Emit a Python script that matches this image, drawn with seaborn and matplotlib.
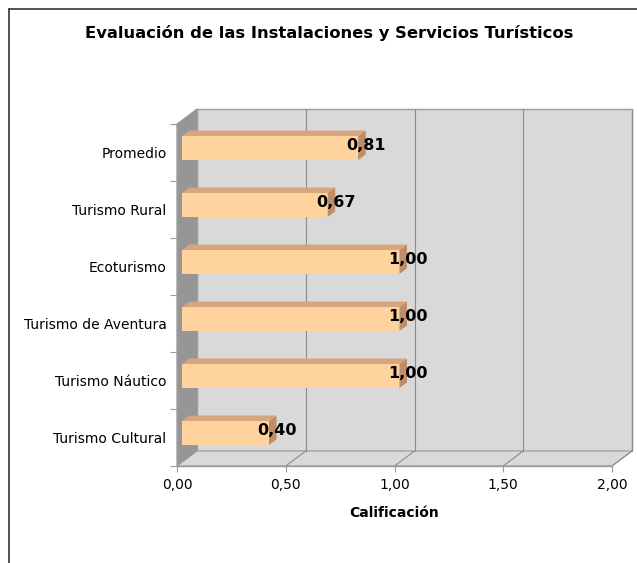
import matplotlib
matplotlib.use("Agg")
import matplotlib.pyplot as plt
import seaborn as sns
import pandas as pd
from matplotlib.patches import Polygon, Rectangle
from matplotlib.lines import Line2D

# ---- data ----
categories = ["Promedio", "Turismo Rural", "Ecoturismo", "Turismo de Aventura",
              "Turismo Náutico", "Turismo Cultural"]
values = [0.81, 0.67, 1.00, 1.00, 1.00, 0.40]
x_ticks = [0.0, 0.5, 1.0, 1.5, 2.0]
x_tick_labels = ["0,00", "0,50", "1,00", "1,50", "2,00"]
title = "Evaluación de las Instalaciones y Servicios Turísticos"
x_label = "Calificación"

df = pd.DataFrame({"cat": categories, "val": values})

sns.set_theme(style="white")
plt.rcParams["font.family"] = ["DejaVu Sans"]
plt.rcParams["text.color"] = "black"
plt.rcParams["axes.labelcolor"] = "black"

W, H = 637, 563
fig = plt.figure(figsize=(W / 100, H / 100), dpi=100)
fig.patch.set_facecolor("white")

# front plane: x 177..612, y 124..466 (image px)
L, R, T, B = 177, 612, 124, 466
ax = fig.add_axes([L / W, (H - B) / H, (R - L) / W, (B - T) / H])
ax.set_facecolor("none")

front = "#FFD39D"
top_c = "#D6A77F"
side_c = "#BF8E68"

sns.barplot(data=df, x="val", y="cat", orient="h", color=front, width=0.42,
            saturation=1, ax=ax, zorder=5)
ax.set_xlim(0, 2)
ax.set_ylim(5.5, -0.5)

pxx = 2 / (R - L)        # data per px in x
pxy = 6 / (B - T)        # data per px in y (down)

# walls
dxw, dyw = 20 * pxx, -15 * pxy
wall = "#D9D9D9"
edge = "#9A9A9A"
ax.add_patch(Rectangle((dxw, -0.5 + dyw), 2, 6, facecolor=wall, edgecolor=edge,
                       lw=1.0, clip_on=False, zorder=0))
ax.add_patch(Polygon([(0, -0.5), (dxw, -0.5 + dyw), (dxw, 5.5 + dyw), (0, 5.5)],
                     closed=True, facecolor="#969696", edgecolor=edge, lw=0.8,
                     clip_on=False, zorder=1))
ax.add_patch(Polygon([(0, 5.5), (2, 5.5), (2 + dxw, 5.5 + dyw), (dxw, 5.5 + dyw)],
                     closed=True, facecolor=wall, edgecolor=edge, lw=0.8,
                     clip_on=False, zorder=1))
for xv in x_ticks[1:]:
    ax.add_line(Line2D([xv + dxw, xv + dxw], [-0.5 + dyw, 5.5 + dyw], color="#8C8C8C",
                       lw=0.8, clip_on=False, zorder=1.5))
    ax.add_line(Line2D([xv, xv + dxw], [5.5, 5.5 + dyw], color="#8C8C8C",
                       lw=0.8, clip_on=False, zorder=1.5))

# 3D bars
sx, sy = 5 * pxx, -4.5 * pxy
dx, dy = 7.5 * pxx, -5.5 * pxy
bars = [pp for pp in ax.patches if isinstance(pp, Rectangle) and pp.get_zorder() == 5]
for p, v in zip(bars, values):
    p.set_x(p.get_x() + sx)
    p.set_y(p.get_y() + sy)
    p.set_linewidth(0)
    x0, y0 = p.get_x(), p.get_y()
    w, h = p.get_width(), p.get_height()
    ytop = min(y0, y0 + h)
    ybot = max(y0, y0 + h)
    ax.add_patch(Polygon([(x0, ytop), (x0 + w, ytop), (x0 + w + dx, ytop + dy), (x0 + dx, ytop + dy)],
                         closed=True, facecolor=top_c, lw=0, zorder=5))
    ax.add_patch(Polygon([(x0 + w, ytop), (x0 + w, ybot), (x0 + w + dx, ybot + dy), (x0 + w + dx, ytop + dy)],
                         closed=True, facecolor=side_c, lw=0, zorder=5))

for i, v in enumerate(values):
    ax.text(v + 13 * pxx, i - 7 * pxy, f"{v:.2f}".replace(".", ","), ha="center", va="center",
            fontsize=11.5, fontweight="bold", color="black", zorder=10)

# axes styling
for s in ["top", "right"]:
    ax.spines[s].set_visible(False)
for s in ["left", "bottom"]:
    ax.spines[s].set_color(edge)
    ax.spines[s].set_linewidth(1.0)
    ax.spines[s].set_zorder(3)

ax.set_xticks(x_ticks)
ax.set_xticklabels(x_tick_labels)
ax.set_yticks(range(len(categories)))
ax.set_yticklabels(categories)
ax.set_yticks([i - 0.5 for i in range(len(categories) + 1)], minor=True)
ax.tick_params(axis="y", which="major", length=0, pad=7.5, labelsize=10, labelcolor="black")
ax.tick_params(axis="y", which="minor", left=True, length=5, width=0.8, color=edge)
ax.tick_params(axis="x", which="major", bottom=True, length=4.5, width=0.8, color=edge,
               pad=4, labelsize=10, labelcolor="black")
ax.set_ylabel("")
ax.set_xlabel(x_label, fontsize=10, fontweight="bold", labelpad=10, color="black")
ax.grid(False)

fig.text(329 / W, 1 - 33 / H, title, ha="center", va="center", fontsize=11.8,
         fontweight="bold", color="black")

# figure border
fig.add_artist(Line2D([9 / W, 9 / W], [0, 1 - 9 / H], color="#333333", lw=1.2, transform=fig.transFigure))
fig.add_artist(Line2D([9 / W, 1], [1 - 9 / H, 1 - 9 / H], color="#333333", lw=1.2, transform=fig.transFigure))

fig.savefig("out.png", dpi=100)
